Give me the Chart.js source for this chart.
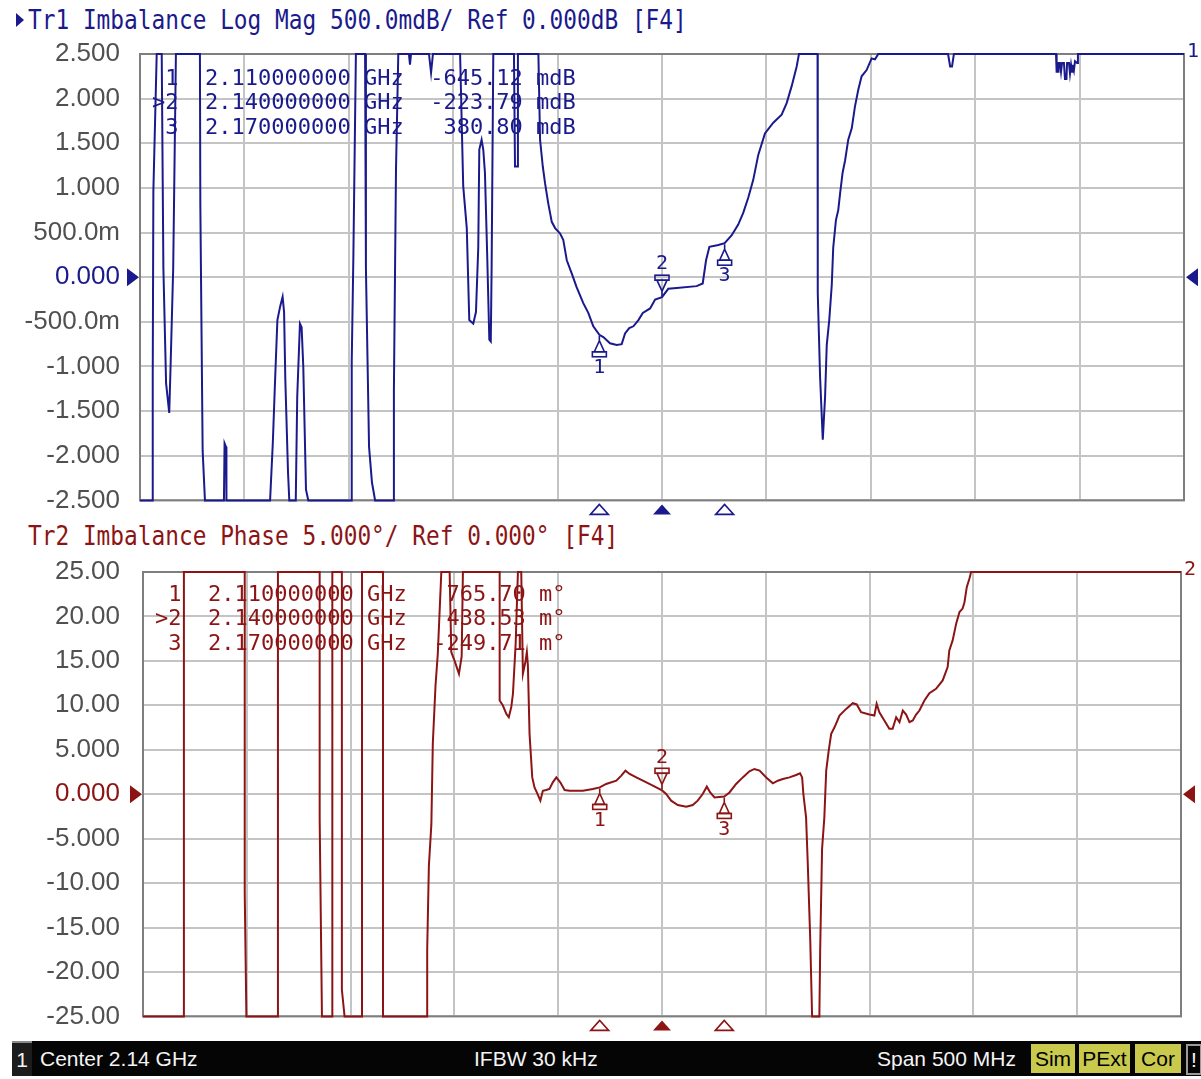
<!DOCTYPE html>
<html>
<head>
<meta charset="utf-8">
<script src="https://cdn.jsdelivr.net/npm/chart.js@4.4.1/dist/chart.umd.min.js"></script>
<style>
  body { margin: 0; background: #fff; width: 1201px; height: 1079px; position: relative; overflow: hidden; }
  canvas { position: absolute; left: 0; }
  #c1 { top: 0; }
  #c2 { top: 520px; }
  .title { position: absolute; font-family: "DejaVu Sans Mono", monospace; font-size: 22.8px; line-height: 24px; white-space: pre; transform: scaleY(1.15); transform-origin: left center; }
  #t1 { left: 28px; top: 8px; color: #1a1a8c; }
  #t2 { left: 28px; top: 524px; color: #8c1414; }
  #arrow1 { position: absolute; left: 16px; top: 13px; width: 0; height: 0; border-top: 7px solid transparent; border-bottom: 7px solid transparent; border-left: 8px solid #1a1a8c; }
  #status { position: absolute; left: 12px; top: 1041px; width: 1189px; height: 35px; background: #050505; font-family: "Liberation Sans", Arial, sans-serif; font-size: 21px; color: #f4f4f4; }
  #status span { position: absolute; top: 6px; white-space: pre; }
  #status .box { top: 3px; height: 29px; line-height: 29px; text-align: center; background: #c9c94e; color: #000; }
  #chan { left: 0; top: 0 !important; width: 20px; height: 33px; background: #1c1c1c; border-top: 2px solid #8a8a8a; text-align: center; line-height: 33px; }
</style>
</head>
<body>
<div id="arrow1"></div>
<div class="title" id="t1">Tr1 Imbalance Log Mag 500.0mdB/ Ref 0.000dB [F4]</div>
<div class="title" id="t2">Tr2 Imbalance Phase 5.000°/ Ref 0.000° [F4]</div>
<canvas id="c1" width="1201" height="536"></canvas>
<canvas id="c2" width="1201" height="535"></canvas>
<div id="status">
  <span id="chan">1</span>
  <span style="left:28px">Center 2.14 GHz</span>
  <span style="left:462px">IFBW 30 kHz</span>
  <span style="left:865px">Span 500 MHz</span>
  <span class="box" style="left:1019px; width:44px">Sim</span>
  <span class="box" style="left:1067px; width:51px">PExt</span>
  <span class="box" style="left:1123px; width:46px">Cor</span>
  <span style="left:1174px; top:3px; width:12px; height:27px; border:2px solid #9a9a9a; text-align:center; line-height:27px">!</span>
</div>
<script>
// --- Sweep: center 2.14 GHz, span 500 MHz (values in MHz) ---
const FREQ_START = 1890;
const FREQ_STOP = 2390;

// Tr1 Imbalance Log Mag (dB), clamped at the screen edges like the analyzer does
const tr1Freq = [
  1890.0, 1896.1, 1896.1, 1896.4, 1898.0, 1900.4, 1901.2, 1902.5, 1904.0, 1904.7,
  1905.9, 1907.2, 1918.7, 1918.9, 1920.0, 1921.1, 1930.2, 1930.5, 1931.2, 1931.4,
  1952.3, 1953.6, 1954.7, 1955.8, 1957.1, 1958.3, 1959.0, 1959.6, 1960.9, 1961.5,
  1964.6, 1965.3, 1966.6, 1967.4, 1968.2, 1969.5, 1970.6, 1991.1, 1991.4, 1992.2,
  1993.4, 1997.8, 1998.2, 1999.7, 2001.1, 2002.6, 2011.3, 2011.6, 2012.6, 2013.7,
  2018.8, 2019.3, 2019.8, 2028.4, 2029.4, 2030.3, 2043.3, 2044.8, 2046.5, 2047.7,
  2049.6, 2050.9, 2052.0, 2052.5, 2053.6, 2054.4, 2055.2, 2056.3, 2057.3, 2058.0,
  2058.4, 2059.2, 2069.1, 2069.6, 2070.6, 2071.0, 2080.8, 2081.6, 2082.9, 2084.0,
  2085.5, 2087.2, 2088.8, 2091.2, 2092.7, 2094.4, 2096.8, 2099.1, 2102.3, 2104.7,
  2107.1, 2110.0, 2111.9, 2115.1, 2118.3, 2120.7, 2122.3, 2124.3, 2126.3, 2128.7,
  2130.8, 2134.3, 2136.7, 2140.0, 2143.0, 2147.0, 2156.6, 2159.5, 2161.1, 2162.7,
  2167.0, 2170.0, 2173.4, 2176.5, 2178.9, 2181.3, 2183.7, 2186.1, 2189.3, 2193.3,
  2197.3, 2199.7, 2202.1, 2204.5, 2205.6, 2214.5, 2214.6, 2215.7, 2217.0, 2218.1,
  2218.9, 2220.1, 2221.3, 2222.0, 2223.3, 2224.4, 2225.3, 2226.5, 2227.7, 2229.2,
  2230.9, 2232.4, 2234.0, 2235.6, 2238.0, 2240.4, 2242.0, 2243.6, 2277.0, 2278.0,
  2278.9, 2279.8, 2328.7, 2329.0, 2329.7, 2329.9, 2330.6, 2331.1, 2331.6, 2332.5,
  2333.0, 2333.7, 2334.0, 2334.9, 2335.4, 2335.9, 2336.4, 2336.8, 2337.3, 2337.8,
  2338.8, 2339.2, 2390.0
];
const tr1Mag = [
  -2.5, -2.5, -1.1, 0.96, 2.5, 2.5, 0.10, -1.19, -1.52, -0.95,
  0.10, 2.5, 2.5, 0.81, -1.94, -2.5, -2.5, -1.86, -1.9, -2.5,
  -2.5, -1.86, -1.15, -0.48, -0.33, -0.22, -0.39, -1.15, -2.19, -2.5,
  -2.5, -1.34, -0.52, -0.56, -1.0, -2.38, -2.5, -2.5, -0.95, 0.25,
  2.5, 2.5, 0.10, -1.9, -2.3, -2.5, -2.5, -1.26, 1.2, 2.5,
  2.5, 2.38, 2.5, 2.5, 2.29, 2.5, 2.5, 1.02, 0.55, -0.48,
  -0.52, -0.39, 0.33, 1.43, 1.54, 1.43, 1.17, 0.23, -0.70, -0.72,
  0.10, 2.5, 2.5, 1.24, 1.24, 2.5, 2.5, 1.54, 1.24, 1.05,
  0.83, 0.62, 0.55, 0.49, 0.42, 0.19, 0.04, -0.11, -0.29, -0.40,
  -0.55, -0.645, -0.67, -0.74, -0.76, -0.75, -0.63, -0.57, -0.55, -0.48,
  -0.40, -0.35, -0.25, -0.224, -0.13, -0.12, -0.10, -0.07, 0.19, 0.34,
  0.36, 0.381, 0.47, 0.59, 0.72, 0.89, 1.09, 1.37, 1.61, 1.73,
  1.82, 1.95, 2.14, 2.36, 2.5, 2.5, -0.18, -1.11, -1.82, -1.34,
  -0.76, -0.48, -0.09, 0.33, 0.64, 0.75, 0.94, 1.17, 1.31, 1.54,
  1.67, 1.91, 2.10, 2.25, 2.32, 2.45, 2.44, 2.5, 2.5, 2.36,
  2.36, 2.5, 2.5, 2.3, 2.3, 2.4, 2.4, 2.3, 2.4, 2.4,
  2.22, 2.22, 2.4, 2.4, 2.28, 2.38, 2.3, 2.38, 2.32, 2.42,
  2.4, 2.5, 2.5
];

// Tr2 Imbalance Phase (deg)
const tr2Freq = [
  1890.0, 1909.7, 1909.7, 1939.0, 1939.0, 1939.8, 1955.0, 1955.0, 1975.1, 1975.1,
  1976.2, 1981.2, 1981.2, 1985.8, 1985.8, 1987.1, 1995.5, 1995.5, 2005.6, 2005.6,
  2026.9, 2026.9, 2027.7, 2028.9, 2029.6, 2030.9, 2032.0, 2033.7, 2037.7, 2038.5,
  2040.1, 2042.2, 2043.5, 2044.1, 2061.8, 2061.8, 2063.3, 2065.0, 2066.2, 2067.4,
  2068.2, 2069.5, 2070.6, 2072.2, 2073.0, 2074.3, 2074.9, 2075.4, 2076.2, 2077.5,
  2078.6, 2079.7, 2081.4, 2082.6, 2084.2, 2085.8, 2087.4, 2089.1, 2091.0, 2093.1,
  2095.5, 2101.9, 2106.7, 2110.0, 2113.1, 2118.0, 2120.4, 2122.4, 2124.4, 2127.6,
  2130.8, 2135.6, 2140.0, 2142.0, 2144.4, 2147.6, 2151.7, 2154.8, 2157.2, 2159.6,
  2161.6, 2163.2, 2165.3, 2170.0, 2172.5, 2175.7, 2178.9, 2182.1, 2184.5, 2187.0,
  2190.2, 2193.4, 2195.8, 2198.2, 2201.4, 2204.6, 2206.5, 2207.5, 2208.1, 2209.4,
  2210.2, 2211.4, 2212.3, 2215.8, 2216.2, 2217.1, 2218.2, 2219.1, 2220.3, 2221.5,
  2223.1, 2225.5, 2228.7, 2231.9, 2233.8, 2235.9, 2239.9, 2242.3, 2243.4, 2244.7,
  2247.1, 2249.5, 2251.1, 2252.8, 2254.4, 2256.0, 2257.6, 2259.2, 2260.8, 2262.4,
  2264.0, 2266.4, 2268.8, 2272.0, 2275.2, 2277.6, 2278.4, 2280.0, 2281.7, 2283.3,
  2284.8, 2285.7, 2286.8, 2288.1, 2288.9, 2390.0
];
const tr2Phase = [
  -25, -25, 25, 25, -11.1, -25, -25, 25, 25, -2.8,
  -25, -25, 25, 25, -22.0, -25, -25, 25, 25, -25,
  -25, -17.5, -8.1, -3.4, 5.7, 12.2, 15.8, 25, 25, 16.0,
  15.0, 13.55, 15.5, 25, 25, 10.54, 10.0, 9.04, 8.66, 9.8,
  11.3, 16.9, 25, 25, 13.55, 15.0, 16.0, 14.5, 6.79, 1.89,
  0.77, 0.2, -0.73, 0.39, 0.47, 0.6, 1.33, 1.89, 1.33, 0.47,
  0.39, 0.39, 0.58, 0.766, 1.15, 1.52, 2.09, 2.65, 2.28, 1.89,
  1.52, 0.96, 0.439, 0.02, -0.73, -1.22, -1.41, -1.22, -0.73, 0.02,
  0.85, 0.2, -0.36, -0.25, 0.2, 1.15, 1.89, 2.57, 2.84, 2.65,
  1.89, 1.22, 1.52, 1.71, 1.89, 2.16, 2.35, 1.89, 0.02, -2.61,
  -7.69, -16.3, -25, -25, -17.45, -6.18, -2.61, 2.65, 4.9, 6.79,
  7.53, 8.85, 9.6, 10.24, 10.1, 9.22, 8.96, 8.85, 10.17, 9.22,
  8.29, 7.35, 7.35, 8.66, 8.1, 9.41, 8.96, 8.1, 8.3, 8.96,
  9.41, 10.54, 11.37, 11.86, 12.8, 14.3, 16.18, 17.3, 19.19, 20.5,
  20.88, 21.6, 23.3, 24.26, 25, 25
];

// Markers
const markerFreq = [2110, 2140, 2170];
const markerNames = ['1', '2', '3'];
const markerMag = [-0.645, -0.224, 0.381];
const markerPhase = [0.766, 0.439, -0.250];
const markerFreqText = ['2.110000000', '2.140000000', '2.170000000'];
const markerMagText = ['-645.12 mdB', '-223.79 mdB', ' 380.80 mdB'];
const markerPhaseText = [' 765.70 m°', ' 438.53 m°', '-249.71 m°'];
const activeMarker = 1;

// Axis tick labels (bottom to top)
const tr1Ticks = ['-2.500', '-2.000', '-1.500', '-1.000', '-500.0m', '0.000', '500.0m', '1.000', '1.500', '2.000', '2.500'];
const tr2Ticks = ['-25.00', '-20.00', '-15.00', '-10.00', '-5.000', '0.000', '5.000', '10.00', '15.00', '20.00', '25.00'];

const BLUE = '#1a1a8c';
const RED = '#8c1414';
const GRID = '#c4c4c4';
const MONO = '"DejaVu Sans Mono", monospace';

function drawMarkerSymbol(ctx, mx, my, name, above) {
    // stem + triangle + base, pointing at the trace
    const s = above ? -1 : 1;
    ctx.beginPath();
    ctx.moveTo(mx, my + s * 1);
    ctx.lineTo(mx, my + s * 6);
    ctx.moveTo(mx, my + s * 6);
    ctx.lineTo(mx - 5, my + s * 17);
    ctx.lineTo(mx + 5, my + s * 17);
    ctx.closePath();
    ctx.stroke();
    ctx.strokeRect(mx - 7, above ? my - 22 : my + 17, 14, 5);
    ctx.fillText(name, mx, my + s * 33);
}

function panelPlugin(cfg) {
    return {
        id: 'panel' + cfg.num,
        beforeDatasetsDraw(chart) {
            const { ctx, chartArea: a } = chart;
            ctx.save();
            // frame
            ctx.strokeStyle = '#7e7e7e';
            ctx.lineWidth = 2;
            ctx.strokeRect(a.left, a.top, a.right - a.left, a.bottom - a.top);
            // marker readout table
            ctx.fillStyle = cfg.color;
            ctx.font = '22px ' + MONO;
            ctx.textBaseline = 'middle';
            ctx.textAlign = 'left';
            markerNames.forEach((n, i) => {
                const head = (i === activeMarker ? '>' : ' ') + n;
                const line = head + '  ' + markerFreqText[i] + ' GHz  ' + cfg.readout[i];
                ctx.fillText(line, a.left + 12, a.top + cfg.rowTop + i * 24.5);
            });
            ctx.restore();
        },
        afterDraw(chart) {
            const { ctx, chartArea: a, scales: { x, y } } = chart;
            ctx.save();
            ctx.fillStyle = cfg.color;
            ctx.strokeStyle = cfg.color;
            // reference level arrows
            const y0 = y.getPixelForValue(0);
            ctx.beginPath();
            ctx.moveTo(a.left - 13, y0 - 9); ctx.lineTo(a.left - 1, y0); ctx.lineTo(a.left - 13, y0 + 9);
            ctx.fill();
            ctx.beginPath();
            ctx.moveTo(a.right + 14, y0 - 9); ctx.lineTo(a.right + 2, y0); ctx.lineTo(a.right + 14, y0 + 9);
            ctx.fill();
            // trace number
            ctx.font = '20px ' + MONO;
            ctx.textAlign = 'left';
            ctx.textBaseline = 'middle';
            ctx.fillText(cfg.num, a.right + 3, a.top - 2);
            // markers on the trace
            ctx.lineWidth = 1.6;
            ctx.textAlign = 'center';
            markerFreq.forEach((f, i) => {
                const mx = x.getPixelForValue(f);
                const my = y.getPixelForValue(cfg.markerVals[i]);
                drawMarkerSymbol(ctx, mx, my, markerNames[i], i === activeMarker);
                // stimulus triangles under the grid
                const ty = a.bottom + 4;
                ctx.beginPath();
                ctx.moveTo(mx, ty); ctx.lineTo(mx - 9, ty + 10); ctx.lineTo(mx + 9, ty + 10);
                ctx.closePath();
                if (i === activeMarker) ctx.fill(); else ctx.stroke();
            });
            ctx.restore();
        }
    };
}

function makeChart(id, freq, vals, cfg) {
    const points = freq.map((f, i) => ({ x: f, y: vals[i] }));
    return new Chart(document.getElementById(id), {
        type: 'line',
        data: {
            datasets: [{
                data: points,
                borderColor: cfg.color,
                borderWidth: 2,
                pointRadius: 0,
                tension: 0,
                fill: false,
                clip: 2
            }]
        },
        options: {
            responsive: false,
            animation: false,
            devicePixelRatio: 1,
            events: [],
            layout: { padding: cfg.padding },
            plugins: { legend: { display: false }, tooltip: { enabled: false } },
            scales: {
                x: {
                    type: 'linear',
                    min: FREQ_START,
                    max: FREQ_STOP,
                    afterFit: (s) => { s.height = 0; },
                    ticks: { display: false, stepSize: 50 },
                    grid: { color: GRID, lineWidth: 2, drawTicks: false },
                    border: { display: false }
                },
                y: {
                    min: cfg.min,
                    max: cfg.max,
                    afterFit: (s) => { s.width = cfg.axisWidth; },
                    ticks: {
                        stepSize: cfg.step,
                        padding: cfg.tickPad,
                        font: { family: '"Liberation Sans", Arial, sans-serif', size: 26 },
                        color: (c) => Math.abs(c.tick.value) < 1e-9 ? cfg.color : '#505050',
                        callback: (v, i) => cfg.labels[i]
                    },
                    grid: { color: GRID, lineWidth: 2, drawTicks: false },
                    border: { display: false }
                }
            }
        },
        plugins: [panelPlugin(cfg)]
    });
}

makeChart('c1', tr1Freq, tr1Mag, {
    num: '1', color: BLUE, min: -2.5, max: 2.5, step: 0.5, labels: tr1Ticks,
    padding: { top: 54, right: 17, bottom: 4, left: 0 }, axisWidth: 140, tickPad: 20,
    markerVals: markerMag, readout: markerMagText, rowTop: 25
});

makeChart('c2', tr2Freq, tr2Phase, {
    num: '2', color: RED, min: -25, max: 25, step: 5, labels: tr2Ticks,
    padding: { top: 52, right: 20, bottom: 4, left: 0 }, axisWidth: 143, tickPad: 23,
    markerVals: markerPhase, readout: markerPhaseText, rowTop: 23
});
</script>
</body>
</html>
